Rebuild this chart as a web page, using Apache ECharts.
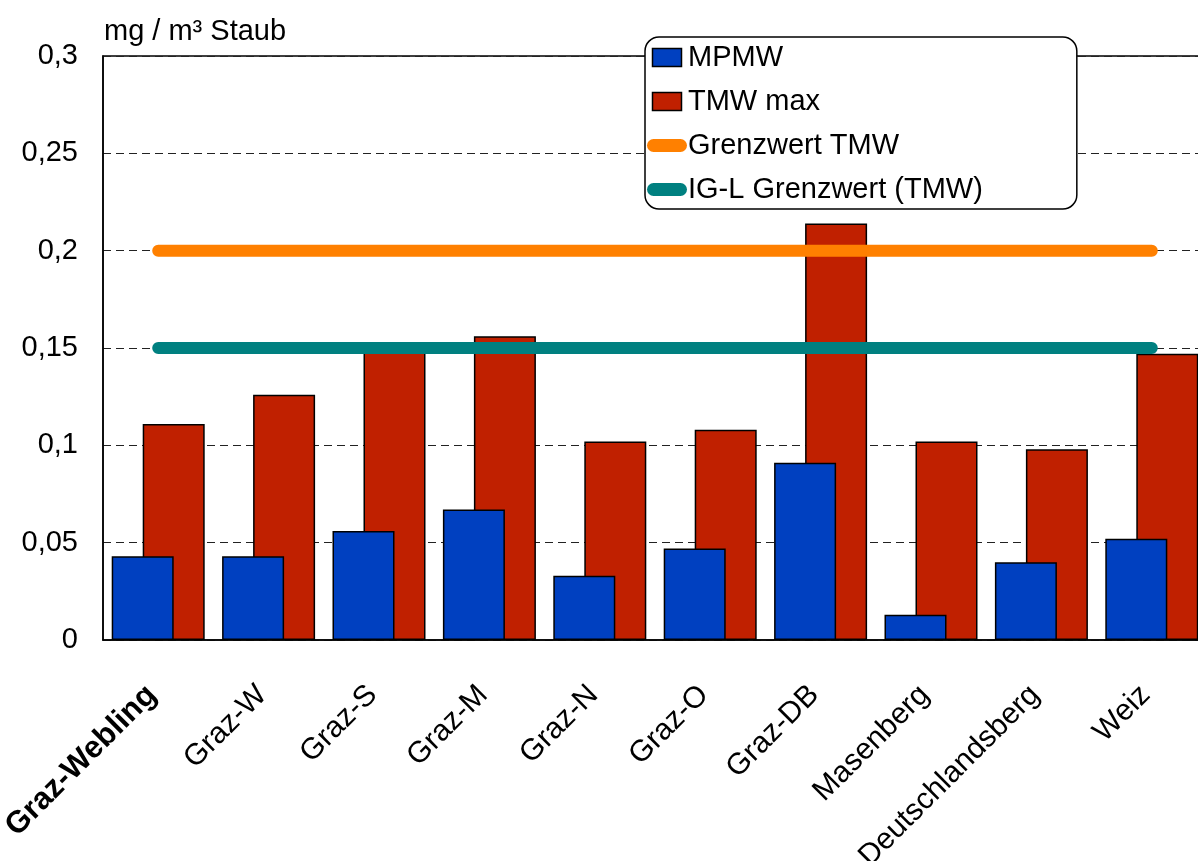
<!DOCTYPE html>
<html>
<head>
<meta charset="utf-8">
<script src="https://cdn.jsdelivr.net/npm/echarts@6/dist/echarts.min.js"></script>
<style>
html,body{margin:0;padding:0;background:#fff;width:1198px;height:861px;overflow:hidden;}
#chart{width:1198px;height:861px;}
</style>
</head>
<body>
<div id="chart"></div>
<script>
const categories = ['Graz-Webling','Graz-W','Graz-S','Graz-M','Graz-N','Graz-O','Graz-DB','Masenberg','Deutschlandsberg','Weiz'];
const mpmw = [0.043, 0.043, 0.056, 0.067, 0.033, 0.047, 0.091, 0.013, 0.040, 0.052];
const tmwMax = [0.111, 0.126, 0.151, 0.156, 0.102, 0.108, 0.214, 0.102, 0.098, 0.147];
const grenzwertTMW = [0.2, 0.2, 0.2, 0.2, 0.2, 0.2, 0.2, 0.2, 0.2, 0.2];
const iglGrenzwert = [0.15, 0.15, 0.15, 0.15, 0.15, 0.15, 0.15, 0.15, 0.15, 0.15];
const yTicks = [0, 0.05, 0.1, 0.15, 0.2, 0.25, 0.3];

const FONT = 'Liberation Sans, Arial, sans-serif';
const FS = 29;
const chart = echarts.init(document.getElementById('chart'), null, {renderer:'canvas'});
const lineIcon = 'path://M6.5,0 L33.5,0 A6.5,6.5 0 0 1 33.5,13 L6.5,13 A6.5,6.5 0 0 1 6.5,0 Z';
const rectIcon = 'path://M0,0 L29,0 L29,18 L0,18 Z';

chart.setOption({
  animation: false,
  backgroundColor: '#fff',
  textStyle: {fontFamily: FONT},
  grid: {left: 103, top: 56, width: 1104, height: 584, outerBoundsMode: 'none', containLabel: false,
         show: true, borderColor: '#000', borderWidth: 1.5, backgroundColor: 'transparent'},
  legend: {
    orient: 'vertical',
    left: 645, top: 37,
    padding: [6, 94, 5, 2],
    itemWidth: 40, itemHeight: 18, itemGap: 15,
    borderColor: '#000', borderWidth: 1.5, borderRadius: 14,
    backgroundColor: '#fff',
    textStyle: {fontSize: FS, color: '#000', fontFamily: FONT, lineHeight: 29, padding: [0,0,0,-4]},
    symbolKeepAspect: true,
    data: [
      {name: 'MPMW', icon: rectIcon, itemStyle: {color: '#0040C0', borderColor: '#000', borderWidth: 1.5}},
      {name: 'TMW max', icon: rectIcon, itemStyle: {color: '#C02000', borderColor: '#000', borderWidth: 1.5}},
      {name: 'Grenzwert TMW', icon: lineIcon, itemStyle: {color: '#FF8000', borderWidth: 0}},
      {name: 'IG-L Grenzwert (TMW)', icon: lineIcon, itemStyle: {color: '#008080', borderWidth: 0}}
    ]
  },
  xAxis: {
    type: 'category',
    data: categories,
    boundaryGap: true,
    axisLine: {show: true, lineStyle: {color: '#000', width: 1.5}},
    axisTick: {show: false},
    axisLabel: {
      interval: 0, rotate: 45, margin: 44, fontSize: 30, color: '#000', fontFamily: FONT,
      padding: [0, 9, 0, 0],
      formatter: function (v, i) { return i === 0 ? '{b|' + v + '}' : v; },
      rich: {b: {fontWeight: 'bold', fontSize: 31, fontFamily: FONT, color: '#000'}}
    }
  },
  yAxis: {
    type: 'value',
    min: 0, max: 0.3, interval: 0.05,
    name: 'mg / m³ Staub',
    nameLocation: 'end',
    nameGap: 10,
    nameTextStyle: {fontSize: FS, color: '#000', align: 'left', verticalAlign: 'bottom', fontFamily: FONT, padding: [0,0,0,1]},
    axisLine: {show: true, lineStyle: {color: '#000', width: 1.5}},
    axisTick: {show: false},
    axisLabel: {
      fontSize: FS, color: '#000', margin: 25, fontFamily: FONT,
      formatter: function (v) { return yTicks.indexOf(+v.toFixed(2)) >= 0 ? String(+v.toFixed(2)).replace('.', ',') : ''; }
    },
    splitLine: {show: true, lineStyle: {color: '#222', width: 1, type: [8, 5]}}
  },
  series: [
    {name: 'MPMW', type: 'bar', data: mpmw, barWidth: 62, barGap: '-50%', z: 3,
     itemStyle: {color: '#0040C0', borderColor: '#000', borderWidth: 1.5}},
    {name: 'TMW max', type: 'bar', data: tmwMax, barWidth: 62, barGap: '-50%', z: 2,
     itemStyle: {color: '#C02000', borderColor: '#000', borderWidth: 1.5}},
    {name: 'Grenzwert TMW', type: 'line', data: grenzwertTMW, z: 5, symbol: 'none', showSymbol: false,
     lineStyle: {color: '#FF8000', width: 12, cap: 'round'}, itemStyle: {color: '#FF8000'}},
    {name: 'IG-L Grenzwert (TMW)', type: 'line', data: iglGrenzwert, z: 5, symbol: 'none', showSymbol: false,
     lineStyle: {color: '#008080', width: 12, cap: 'round'}, itemStyle: {color: '#008080'}}
  ]
});
</script>
</body>
</html>
